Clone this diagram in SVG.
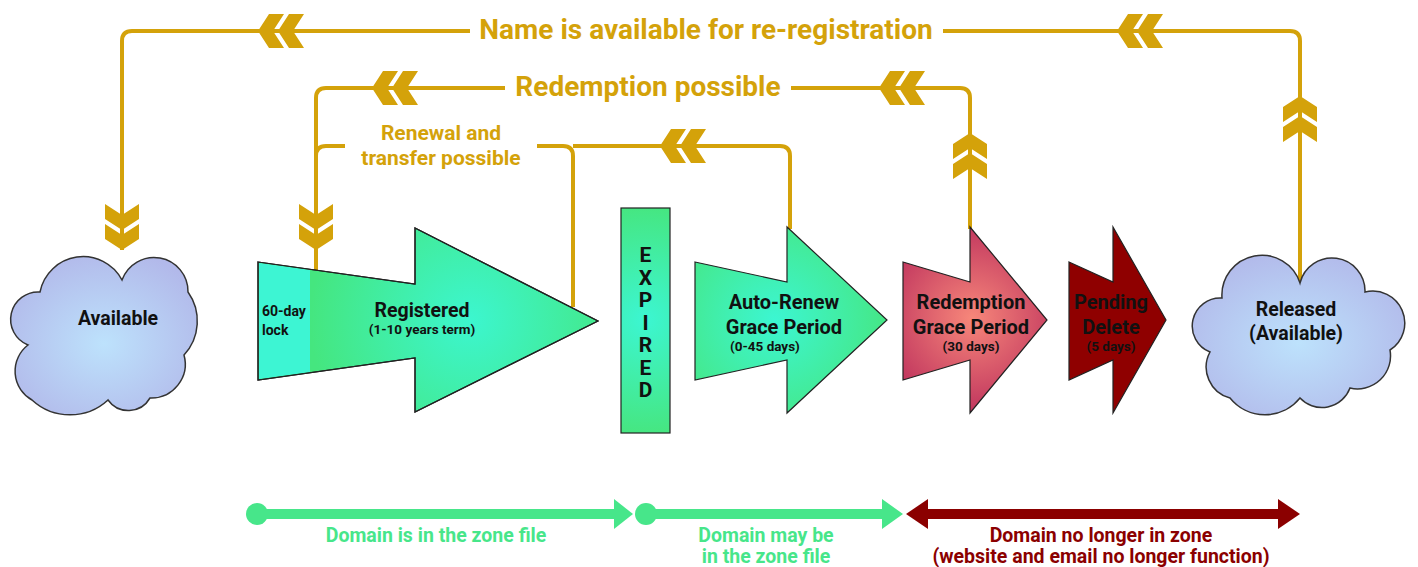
<svg xmlns="http://www.w3.org/2000/svg" xmlns:xlink="http://www.w3.org/1999/xlink" width="1418" height="567" viewBox="0 0 1418 567">
<style>
.ln{fill:none;stroke:#D4A20A;stroke-width:4;}
.gold{fill:#D4A20A;}
.lbl{font-family:Roboto,"Liberation Sans",sans-serif;font-weight:bold;fill:#D4A20A;text-anchor:middle;}
.t{font-family:Roboto,"Liberation Sans",sans-serif;font-weight:bold;fill:#111;text-anchor:middle;}
.shape{stroke:#222;stroke-width:1.2;}
.cloud{fill:url(#gCloud);stroke:#333;stroke-width:1.5;}
.gr{fill:#47E68A;}
.grl{stroke:#47E68A;stroke-width:10;}
.rd{fill:#8B0000;}
.rdl{stroke:#8B0000;stroke-width:10;}
.bg{font-family:Roboto,"Liberation Sans",sans-serif;font-weight:bold;font-size:19.5px;text-anchor:middle;}
</style>
<defs>
<g id="chev">
<polygon points="0,0 11,-17 26,-17 15,0 26,17 11,17"/>
<polygon points="20,0 31,-17 46,-17 35,0 46,17 31,17"/>
</g>
<radialGradient id="gCloud" cx="0.5" cy="0.55" r="0.6">
<stop offset="0" stop-color="#BDE2FC"/>
<stop offset="1" stop-color="#B2B9EA"/>
</radialGradient>
<radialGradient id="gReg" gradientUnits="userSpaceOnUse" cx="470" cy="320" r="160">
<stop offset="0" stop-color="#3CF6CF"/>
<stop offset="1" stop-color="#45E67F"/>
</radialGradient>
<radialGradient id="gAuto" gradientUnits="userSpaceOnUse" cx="775" cy="320" r="120">
<stop offset="0" stop-color="#3CF6D2"/>
<stop offset="1" stop-color="#46E680"/>
</radialGradient>
<radialGradient id="gExp" gradientUnits="userSpaceOnUse" cx="645" cy="320" r="115">
<stop offset="0" stop-color="#3CF6D2"/>
<stop offset="1" stop-color="#46E680"/>
</radialGradient>
<radialGradient id="gRed" gradientUnits="userSpaceOnUse" cx="972" cy="318" r="95">
<stop offset="0" stop-color="#F7877A"/>
<stop offset="1" stop-color="#C0355E"/>
</radialGradient>
</defs>

<g id="connectors">
<path class="ln" d="M122 250 V41 Q122 31 132 31 H470"/>
<path class="ln" d="M943 31 H1290 Q1300 31 1300 41 V282"/>
<path class="ln" d="M316 270 V98 Q316 88 326 88 H505"/>
<path class="ln" d="M791 88 H960 Q970 88 970 98 V229"/>
<path class="ln" d="M345 146 H326 Q316 146 316 156"/>
<path class="ln" d="M537 146 H563 Q573 146 573 156 V307"/>
<path class="ln" d="M573 146 H780 Q790 146 790 156 V229"/>
<g class="gold">
<use xlink:href="#chev" href="#chev" transform="translate(258,31)"/>
<use xlink:href="#chev" href="#chev" transform="translate(1117,31)"/>
<use xlink:href="#chev" href="#chev" transform="translate(372,88)"/>
<use xlink:href="#chev" href="#chev" transform="translate(879,88)"/>
<use xlink:href="#chev" href="#chev" transform="translate(660,146)"/>
<use xlink:href="#chev" href="#chev" transform="translate(122,250) rotate(-90)"/>
<use xlink:href="#chev" href="#chev" transform="translate(316,250) rotate(-90)"/>
<use xlink:href="#chev" href="#chev" transform="translate(1300,96) rotate(90)"/>
<use xlink:href="#chev" href="#chev" transform="translate(970,133) rotate(90)"/>
</g>
<text class="lbl" x="706" y="39" font-size="28">Name is available for re-registration</text>
<text class="lbl" x="648" y="96" font-size="28">Redemption possible</text>
<text class="lbl" x="441" y="140" font-size="21">Renewal and</text>
<text class="lbl" x="441" y="165" font-size="21">transfer possible</text>
</g>

<g id="available">
<path class="cloud" d="M122 280 A34 34 0 0 1 188 292 A50 50 0 0 1 184 355 A34 34 0 0 1 150 398 A25 25 0 0 1 108 400 A56 56 0 0 1 32 400 A33 33 0 0 1 28 345 A27.5 27.5 0 0 1 40 292 A44 44 0 0 1 122 280 Z"/>
<text class="t" x="118" y="325" font-size="19.5">Available</text>
</g>

<g id="registered">
<polygon class="shape" fill="url(#gReg)" points="258,262 415,284 415,228 598,321 415,412 415,358 258,380"/>
<polygon fill="#3DF5D3" points="259,263 310,270 310,372 259,379"/>
<polygon class="shape" fill="none" points="258,262 415,284 415,228 598,321 415,412 415,358 258,380"/>
<text class="t" x="262" y="316" font-size="14" style="text-anchor:start">60-day</text>
<text class="t" x="262" y="335" font-size="14" style="text-anchor:start">lock</text>
<text class="t" x="422" y="317" font-size="19.5">Registered</text>
<text class="t" x="422" y="334" font-size="13.5">(1-10 years term)</text>
</g>

<g id="expired">
<rect class="shape" fill="url(#gExp)" x="621" y="208" width="49" height="225"/>
<g class="t" font-size="21">
<text x="645.5" y="262">E</text>
<text x="645.5" y="284.5">X</text>
<text x="645.5" y="307">P</text>
<text x="645.5" y="329.5">I</text>
<text x="645.5" y="352">R</text>
<text x="645.5" y="374.5">E</text>
<text x="645.5" y="397">D</text>
</g>
</g>

<g id="autorenew">
<polygon class="shape" fill="url(#gAuto)" points="695,262 787,282 787,227 887,320 787,413 787,360 695,380"/>
<text class="t" x="784" y="309" font-size="20">Auto-Renew</text>
<text class="t" x="784" y="334" font-size="20">Grace Period</text>
<text class="t" x="730" y="351" font-size="13.5" style="text-anchor:start">(0-45 days)</text>
</g>

<g id="redemption">
<polygon class="shape" fill="url(#gRed)" points="903,262 970,282 970,227 1047,320 970,413 970,360 903,380"/>
<text class="t" x="971" y="309" font-size="20">Redemption</text>
<text class="t" x="971" y="334" font-size="20">Grace Period</text>
<text class="t" x="971" y="351" font-size="13.5">(30 days)</text>
</g>

<g id="pending">
<polygon class="shape" fill="#8F0000" points="1069,262 1113,282 1113,227 1166,320 1113,413 1113,360 1069,380"/>
<text class="t" x="1111" y="309" font-size="20">Pending</text>
<text class="t" x="1111" y="334" font-size="20">Delete</text>
<text class="t" x="1111" y="351" font-size="13.5">(5 days)</text>
</g>

<g id="released">
<path class="cloud" d="M1300 283 A33 33 0 0 1 1365 292 A32 32 0 0 1 1390 350 A33 33 0 0 1 1350 388 A30 30 0 0 1 1300 398 A45 45 0 0 1 1230 398 A32 32 0 0 1 1210 352 A28 28 0 0 1 1222 298 A40 40 0 0 1 1300 283 Z"/>
<text class="t" x="1296" y="316" font-size="19.5">Released</text>
<text class="t" x="1296" y="340" font-size="19.5">(Available)</text>
</g>

<g id="timeline">
<circle class="gr" cx="257" cy="514" r="11"/>
<line class="grl" x1="257" y1="514" x2="616" y2="514"/>
<polygon class="gr" points="614,499 633,514 614,529"/>
<circle class="gr" cx="646" cy="514" r="11"/>
<line class="grl" x1="646" y1="514" x2="884" y2="514"/>
<polygon class="gr" points="882,499 903,514 882,529"/>
<line class="rdl" x1="926" y1="514" x2="1280" y2="514"/>
<polygon class="rd" points="906,514 928,499 928,529"/>
<polygon class="rd" points="1278,499 1300,514 1278,529"/>
<text class="bg" fill="#47E68A" x="436" y="542">Domain is in the zone file</text>
<text class="bg" fill="#47E68A" x="766" y="542">Domain may be</text>
<text class="bg" fill="#47E68A" x="766" y="563">in the zone file</text>
<text class="bg" fill="#8B0000" x="1101" y="542">Domain no longer in zone</text>
<text class="bg" fill="#8B0000" x="1101" y="563">(website and email no longer function)</text>
</g>
</svg>
